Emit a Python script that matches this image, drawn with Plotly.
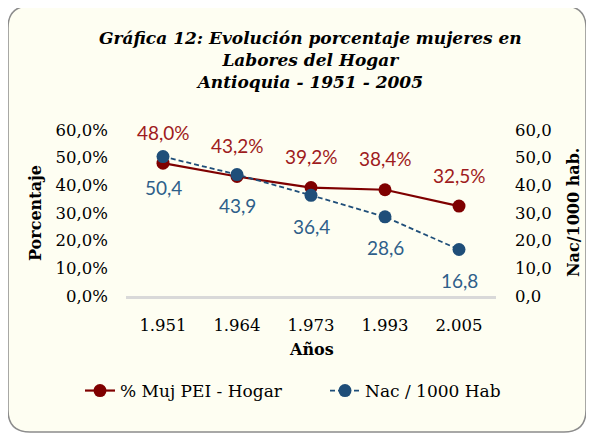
import plotly.graph_objects as go

years = ["1.951", "1.964", "1.973", "1.993", "2.005"]
muj_hogar = [0.480, 0.432, 0.392, 0.384, 0.325]
nac_1000 = [50.4, 43.9, 36.4, 28.6, 16.8]

# screen geometry (page body has an 8px margin)
OFF = 8
SW, SH = 594, 439
W, H = SW - OFF, SH - OFF
L, R, T, B = 126, 496, 130, 296   # plot area in screen pixels

def px(x):
    return (x - L) / (R - L)

def py(y):
    return (B - y) / (B - T)

RED = "#7F0000"
RED_TXT = "#9E1B20"
BLUE = "#1F4E79"
BLUE_TXT = "#2E5F8A"
SERIF = "DejaVu Serif"
SANS = "Lato"

fig = go.Figure()
fig.add_trace(go.Scatter(
    x=years, y=muj_hogar, name="% Muj PEI - Hogar", mode="lines+markers",
    line=dict(color=RED, width=2.2), marker=dict(color=RED, size=13),
))
fig.add_trace(go.Scatter(
    x=years, y=nac_1000, name="Nac / 1000 Hab", mode="lines+markers", yaxis="y2",
    line=dict(color=BLUE, width=1.8, dash="5px,3px"), marker=dict(color=BLUE, size=13),
))

annotations = []
for i, yv in enumerate(muj_hogar):
    annotations.append(dict(x=i, y=yv, xref="x", yref="y",
                            text=("%.1f%%" % (yv * 100)).replace(".", ","),
                            showarrow=False, yshift=31,
                            font=dict(family=SANS, size=19, color=RED_TXT)))
for i, yv in enumerate(nac_1000):
    annotations.append(dict(x=i, y=yv, xref="x", yref="y2",
                            text=("%.1f" % yv).replace(".", ","),
                            showarrow=False, yshift=-31,
                            font=dict(family=SANS, size=19, color=BLUE_TXT)))

annotations.append(dict(x=px(310), y=py(60), xref="paper", yref="paper",
                        xanchor="center", yanchor="middle",
                        text="<b><i>Gráfica 12: Evolución porcentaje mujeres en<br>Labores del Hogar<br>Antioquia - 1951 - 2005</i></b>",
                        showarrow=False, align="center",
                        font=dict(family=SERIF, size=17, color="#000000")))
annotations.append(dict(x=px(35), y=py(213), xref="paper", yref="paper",
                        xanchor="center", yanchor="middle",
                        text="<b>Porcentaje</b>", textangle=-90, showarrow=False,
                        font=dict(family=SERIF, size=16, color="#000000")))
annotations.append(dict(x=px(573), y=py(213), xref="paper", yref="paper",
                        xanchor="center", yanchor="middle",
                        text="<b>Nac/1000 hab.</b>", textangle=-90, showarrow=False,
                        font=dict(family=SERIF, size=16, color="#000000")))
annotations.append(dict(x=px(311), y=py(349), xref="paper", yref="paper",
                        xanchor="center", yanchor="middle",
                        text="<b>Años</b>", showarrow=False,
                        font=dict(family=SERIF, size=16, color="#000000")))

# rounded frame (screen pixels -> paper coords)
x0, x1, y0, y1 = px(8), px(586), py(6), py(432)
rx = 22 / (R - L)
ry = 22 / (B - T)
path = (f"M {x0+rx},{y0} L {x1-rx},{y0} Q {x1},{y0} {x1},{y0-ry} "
        f"L {x1},{y1+ry} Q {x1},{y1} {x1-rx},{y1} "
        f"L {x0+rx},{y1} Q {x0},{y1} {x0},{y1+ry} "
        f"L {x0},{y0-ry} Q {x0},{y0} {x0+rx},{y0} Z")

fig.update_layout(
    width=W, height=H,
    margin=dict(l=L - OFF, r=SW - R, t=T - OFF, b=SH - B, autoexpand=False),
    paper_bgcolor="#FFFFFF",
    plot_bgcolor="rgba(0,0,0,0)",
    separators=",.",
    showlegend=True,
    legend=dict(orientation="h", xref="paper", yref="paper",
                x=px(80), xanchor="left", y=py(391), yanchor="middle",
                entrywidth=200, entrywidthmode="pixels",
                font=dict(family=SERIF, size=17, color="#000000"),
                bgcolor="rgba(0,0,0,0)"),
    xaxis=dict(type="category", range=[-0.5, 4.5], showgrid=False, showline=True,
               linecolor="#D9D9D9", linewidth=3, ticklabelstandoff=12,
               ticks="", tickfont=dict(family=SERIF, size=16.5, color="#000000"),
               zeroline=False, automargin=False),
    yaxis=dict(range=[0, 0.6], dtick=0.1, tickformat=".1%", showgrid=False,
               zeroline=False, showline=False, ticks="", automargin=False,
               ticklabelstandoff=17,
               tickfont=dict(family=SERIF, size=16.5, color="#000000")),
    yaxis2=dict(range=[0, 60], dtick=10, tickformat=".1f", overlaying="y", side="right",
                showgrid=False, zeroline=False, showline=False, ticks="", automargin=False,
                ticklabelstandoff=18,
                tickfont=dict(family=SERIF, size=16.5, color="#000000")),
    annotations=annotations,
    shapes=[dict(type="path", xref="paper", yref="paper", path=path,
                 fillcolor="#FEFEF2", line=dict(color="#8C8C8C", width=1.5), layer="below")],
)

fig.write_html("out.html")
